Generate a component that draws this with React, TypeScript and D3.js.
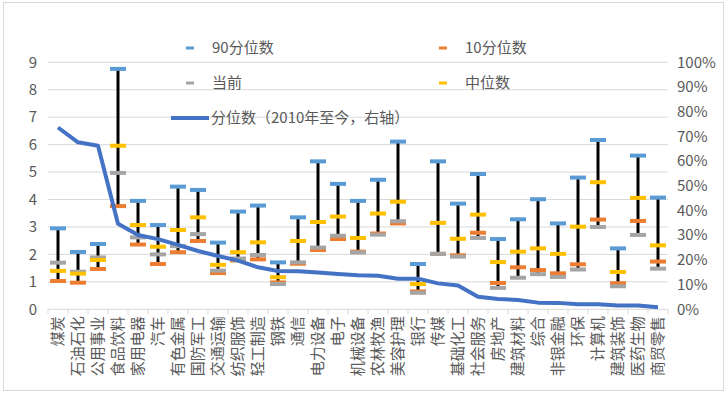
import React from "react";
import * as d3 from "d3";

const categories = ["煤炭","石油石化","公用事业","食品饮料","家用电器","汽车","有色金属","国防军工","交通运输","纺织服饰","轻工制造","钢铁","通信","电力设备","电子","机械设备","农林牧渔","美容护理","银行","传媒","基础化工","社会服务","房地产","建筑材料","综合","非银金融","环保","计算机","建筑装饰","医药生物","商贸零售"];
const p90 = [2.95,2.09,2.38,8.76,3.95,3.07,4.47,4.35,2.43,3.56,3.78,1.71,3.35,5.39,4.57,3.95,4.72,6.11,1.65,5.39,3.85,4.93,2.56,3.28,4.01,3.13,4.80,6.17,2.22,5.60,4.07];
const p10 = [1.03,0.97,1.47,3.76,2.36,1.65,2.08,2.49,1.32,1.78,1.82,0.98,1.66,2.16,2.56,2.10,2.76,3.13,0.65,2.02,1.97,2.79,0.96,1.53,1.43,1.31,1.64,3.27,0.95,3.22,1.74];
const current = [1.70,1.37,1.89,4.97,2.62,2.00,2.30,2.74,1.41,1.85,1.98,0.92,1.71,2.25,2.68,2.07,2.72,3.21,0.60,2.02,1.92,2.60,0.78,1.15,1.28,1.18,1.45,3.00,0.84,2.71,1.48];
const median = [1.40,1.30,1.80,5.96,3.07,2.28,2.89,3.35,1.62,2.08,2.44,1.17,2.49,3.18,3.38,2.60,3.49,3.92,0.92,3.15,2.57,3.45,1.72,2.10,2.22,2.02,3.01,4.63,1.36,4.06,2.33];
const percentile = [73.6,67.6,66.2,34.6,30.1,28.4,26.1,23.6,21.6,19.7,17.0,15.5,15.4,14.9,14.3,13.8,13.6,12.4,12.4,10.5,9.6,5.1,4.2,3.8,2.7,2.6,2.0,2.0,1.5,1.5,0.8];
const leftTicks = [0,1,2,3,4,5,6,7,8,9];
const rightTicks = [0,10,20,30,40,50,60,70,80,90,100];

const C90 = "#5B9BD5", C10 = "#ED7D31", CCUR = "#A5A5A5", CMED = "#FFC000", CLINE = "#4472C4";
const TXT = "#595959";
const FONT = "'Noto Sans CJK SC', 'Microsoft YaHei', sans-serif";

export default function App() {
  const W = 728, H = 397;
  const x0 = 48, x1 = 668, yTop = 62.3, yBot = 309.3;
  const x = d3.scaleBand<string>().domain(categories).range([x0, x1]);
  const y = d3.scaleLinear().domain([0, 9]).range([yBot, yTop]);
  const y2 = d3.scaleLinear().domain([0, 100]).range([yBot, yTop]);
  const cx = (i: number) => (x(categories[i]) as number) + x.bandwidth() / 2;
  const line = d3.line<number>().x((_, i) => cx(i)).y((d) => y2(d));
  const capW = 16, capH = 4;
  const series: [number[], string][] = [[p90, C90], [p10, C10], [current, CCUR], [median, CMED]];
  const legend = [
    { label: "90分位数", color: C90, lx: 190, ly: 48 },
    { label: "10分位数", color: C10, lx: 443, ly: 48 },
    { label: "当前", color: CCUR, lx: 190, ly: 83 },
    { label: "中位数", color: CMED, lx: 443, ly: 83 },
  ];
  return (
    <svg width={W} height={H} style={{ position: "absolute", left: 0, top: 0, fontFamily: FONT }}>
      <rect x={0} y={0} width={W} height={H} fill="#fff" />
      <rect x={3.5} y={2.5} width={720} height={388} fill="none" stroke="#D9D9D9" />
      {leftTicks.map((t) => (
        <line key={"g" + t} x1={x0} x2={x1} y1={y(t)} y2={y(t)} stroke="#D9D9D9" strokeWidth={1} />
      ))}
      {leftTicks.map((t) => (
        <text key={"l" + t} x={37} y={y(t)} dy="0.35em" textAnchor="end" fontSize={15} fill={TXT}>{t}</text>
      ))}
      {rightTicks.map((t) => (
        <text key={"r" + t} x={677} y={y2(t)} dy="0.35em" textAnchor="start" fontSize={15} fill={TXT}>{t + "%"}</text>
      ))}
      {d3.range(categories.length + 1).map((k) => {
        const xx = x0 + k * x.bandwidth();
        return <line key={"t" + k} x1={xx} x2={xx} y1={yBot} y2={yBot + 5} stroke="#D9D9D9" />;
      })}
      {categories.map((c, i) => (
        <text key={"c" + c} transform={`translate(${cx(i) + 5},${yBot + 7}) rotate(-90)`} textAnchor="end" fontSize={15} fill={TXT}>{c}</text>
      ))}
      {categories.map((c, i) => {
        const vals = [p90[i], p10[i], current[i], median[i]];
        return <line key={"hl" + c} x1={cx(i)} x2={cx(i)} y1={y(d3.max(vals) as number)} y2={y(d3.min(vals) as number)} stroke="#000" strokeWidth={3} />;
      })}
      {series.map(([vals, col], s) =>
        vals.map((v, i) => (
          <rect key={"m" + s + "_" + i} x={cx(i) - capW / 2} y={y(v) - capH / 2} width={capW} height={capH} fill={col} />
        ))
      )}
      <path d={line(percentile) || ""} fill="none" stroke={CLINE} strokeWidth={4} strokeLinejoin="round" />
      {legend.map((l) => (
        <g key={l.label}>
          <rect x={l.lx - 4} y={l.ly - 1.5} width={8} height={3} fill={l.color} />
          <text x={l.lx + 22} y={l.ly} dy="0.35em" fontSize={15} fill={TXT}>{l.label}</text>
        </g>
      ))}
      <line x1={171} x2={209} y1={118} y2={118} stroke={CLINE} strokeWidth={4} />
      <text x={211} y={118} dy="0.35em" fontSize={15} fill={TXT}>分位数（2010年至今，右轴）</text>
    </svg>
  );
}
